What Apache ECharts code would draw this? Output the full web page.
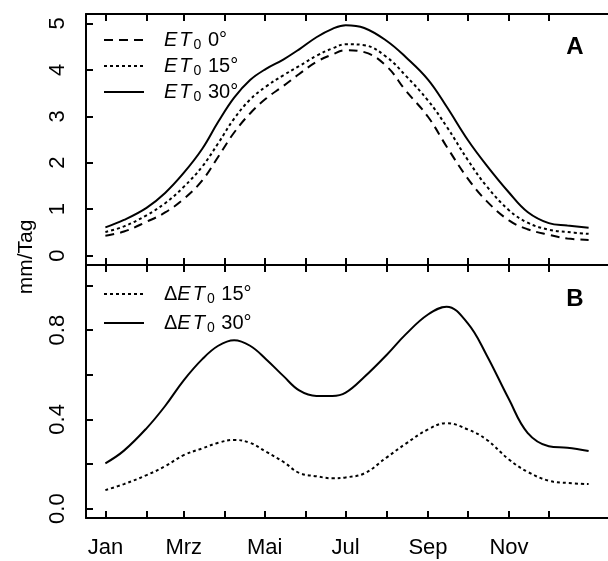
<!DOCTYPE html>
<html>
<head>
<meta charset="utf-8">
<script src="https://cdn.jsdelivr.net/npm/echarts@6/dist/echarts.min.js"></script>
<style>
  html, body { margin: 0; padding: 0; background: #ffffff; }
  #chart { width: 608px; height: 561px; }
</style>
</head>
<body>
<div id="chart"></div>
<script>
// day of year for each reading
const days = [1, 15, 32, 46, 60, 74, 86, 98, 110, 122, 135, 147, 160, 172, 182, 196, 213, 227, 244, 258, 274, 288, 305, 319, 335, 349, 365];

// panel A, mm/Tag
const et0Deg0 = [0.43, 0.52, 0.73, 0.93, 1.22, 1.62, 2.13, 2.65, 3.06, 3.38, 3.65, 3.91, 4.17, 4.33, 4.42, 4.38, 4.07, 3.56, 2.99, 2.35, 1.66, 1.18, 0.76, 0.57, 0.45, 0.37, 0.34];
const et0Deg15 = [0.51, 0.63, 0.87, 1.13, 1.48, 1.92, 2.42, 2.95, 3.36, 3.64, 3.88, 4.08, 4.30, 4.46, 4.55, 4.53, 4.27, 3.88, 3.34, 2.78, 2.06, 1.50, 0.98, 0.71, 0.56, 0.51, 0.47];
const et0Deg30 = [0.61, 0.77, 1.03, 1.35, 1.78, 2.30, 2.88, 3.40, 3.78, 4.02, 4.22, 4.44, 4.70, 4.88, 4.96, 4.90, 4.62, 4.28, 3.79, 3.21, 2.49, 1.95, 1.36, 0.94, 0.70, 0.65, 0.60];

// panel B, mm/Tag
const deltaDeg15 = [0.083, 0.11, 0.15, 0.19, 0.24, 0.27, 0.295, 0.308, 0.295, 0.255, 0.21, 0.16, 0.145, 0.136, 0.14, 0.158, 0.23, 0.29, 0.355, 0.383, 0.355, 0.31, 0.22, 0.165, 0.125, 0.115, 0.11];
const deltaDeg30 = [0.203, 0.26, 0.36, 0.46, 0.575, 0.67, 0.73, 0.755, 0.73, 0.67, 0.595, 0.53, 0.505, 0.505, 0.52, 0.59, 0.69, 0.78, 0.87, 0.905, 0.83, 0.69, 0.49, 0.34, 0.28, 0.273, 0.258];

const monthStarts = [1, 32, 60, 91, 121, 152, 182, 213, 244, 274, 305, 335];
const monthLabelDays = [1, 60, 121, 182, 244, 305];
const monthNames = ["Jan", "Mrz", "Mai", "Jul", "Sep", "Nov"];
const ticksA = [0, 1, 2, 3, 4, 5];
const ticksB = [0, 0.2, 0.4, 0.6, 0.8, 1.0];
const labelsB = [0, 0.4, 0.8];

const FONT = "Liberation Sans";

function pairs(values) {
    return days.map((d, i) => [d, values[i]]);
}

function monthAxis(gridIndex, position, showLabels) {
    return {
        type: "value",
        gridIndex: gridIndex,
        position: position,
        min: -13.6,
        max: 379.6,
        axisLine: { show: true, onZero: false, lineStyle: { color: "#000", width: 2 } },
        axisTick: { show: true, inside: true, length: 7, customValues: monthStarts, lineStyle: { color: "#000", width: 2 } },
        axisLabel: {
            show: showLabels,
            customValues: monthLabelDays,
            formatter: v => monthNames[monthLabelDays.indexOf(v)] || "",
            margin: 19,
            fontSize: 22,
            fontFamily: FONT,
            color: "#000"
        },
        splitLine: { show: false }
    };
}

function valueAxis(gridIndex, min, max, ticks, labels, digits) {
    return {
        type: "value",
        gridIndex: gridIndex,
        min: min,
        max: max,
        axisLine: { show: true, onZero: false, lineStyle: { color: "#000", width: 2 } },
        axisTick: { show: true, inside: true, length: 7, customValues: ticks, lineStyle: { color: "#000", width: 2 } },
        axisLabel: {
            customValues: labels,
            rotate: 90,
            margin: 17,
            formatter: v => v.toFixed(digits),
            fontSize: 22,
            fontFamily: FONT,
            color: "#000"
        },
        splitLine: { show: false }
    };
}

function lineSeries(name, xIndex, yIndex, values, type) {
    return {
        name: name,
        type: "line",
        xAxisIndex: xIndex,
        yAxisIndex: yIndex,
        data: pairs(values),
        smooth: 0.4,
        symbol: "none",
        lineStyle: { color: "#000", width: 2, type: type },
        itemStyle: { color: "#000" }
    };
}

const DASHED = [9, 6];
const DOTTED = [3, 3];

const legendText = {
    "ET0 0°": "{g| }{e|E}{t|T}{s|0}{n| 0°}",
    "ET0 15°": "{g| }{e|E}{t|T}{s|0}{n| 15°}",
    "ET0 30°": "{g| }{e|E}{t|T}{s|0}{n| 30°}",
    "ΔET0 15°": "{g| }{n|Δ}{e|E}{t|T}{s|0}{n| 15°}",
    "ΔET0 30°": "{g| }{n|Δ}{e|E}{t|T}{s|0}{n| 30°}"
};

const legendRich = {
    g: { width: 15, fontSize: 20 },
    e: { fontStyle: "italic", fontSize: 20, fontFamily: FONT, color: "#000", padding: [0, 2, 0, 0] },
    t: { fontStyle: "italic", fontSize: 20, fontFamily: FONT, color: "#000", padding: [0, 2, 0, 0] },
    s: { fontSize: 14, fontFamily: FONT, color: "#000", padding: [10, 1, 0, 0] },
    n: { fontSize: 20, fontFamily: FONT, color: "#000" }
};

function legend(names, top, gap) {
    return {
        data: names,
        orient: "vertical",
        left: 103,
        top: top,
        padding: 0,
        itemWidth: 40,
        itemHeight: 14,
        itemGap: gap,
        itemStyle: { color: "rgba(0,0,0,0)", borderWidth: 0, opacity: 0 },
        formatter: name => legendText[name],
        textStyle: { fontSize: 20, fontFamily: FONT, color: "#000", rich: legendRich }
    };
}

const chart = echarts.init(document.getElementById("chart"), null, { renderer: "canvas" });

chart.setOption({
    animation: false,
    backgroundColor: "#ffffff",
    grid: [
        { left: 86, right: -9, top: 14, height: 251 },
        { left: 86, right: -9, top: 265, height: 253 }
    ],
    xAxis: [
        monthAxis(0, "bottom", false),
        monthAxis(0, "top", false),
        monthAxis(1, "top", false),
        monthAxis(1, "bottom", true)
    ],
    yAxis: [
        valueAxis(0, -0.2, 5.2, ticksA, ticksA, 0),
        valueAxis(1, -0.042, 1.092, ticksB, labelsB, 1)
    ],
    legend: [
        legend(["ET0 0°", "ET0 15°", "ET0 30°"], 30, 4),
        legend(["ΔET0 15°", "ΔET0 30°"], 284, 7)
    ],
    graphic: [
        {
            type: "text",
            x: 26,
            y: 257,
            rotation: Math.PI / 2,
            style: { text: "mm/Tag", fontSize: 21, fontFamily: FONT, fill: "#000", align: "center", verticalAlign: "middle", textAlign: "center", textVerticalAlign: "middle" }
        },
        {
            type: "text",
            x: 575,
            y: 47,
            style: { text: "A", fontSize: 24, fontWeight: "bold", fontFamily: FONT, fill: "#000", align: "center", verticalAlign: "middle", textAlign: "center", textVerticalAlign: "middle" }
        },
        {
            type: "text",
            x: 575,
            y: 299,
            style: { text: "B", fontSize: 24, fontWeight: "bold", fontFamily: FONT, fill: "#000", align: "center", verticalAlign: "middle", textAlign: "center", textVerticalAlign: "middle" }
        }
    ],
    series: [
        lineSeries("ET0 0°", 0, 0, et0Deg0, DASHED),
        lineSeries("ET0 15°", 0, 0, et0Deg15, DOTTED),
        lineSeries("ET0 30°", 0, 0, et0Deg30, "solid"),
        lineSeries("ΔET0 15°", 3, 1, deltaDeg15, DOTTED),
        lineSeries("ΔET0 30°", 3, 1, deltaDeg30, "solid")
    ]
});
</script>
</body>
</html>
